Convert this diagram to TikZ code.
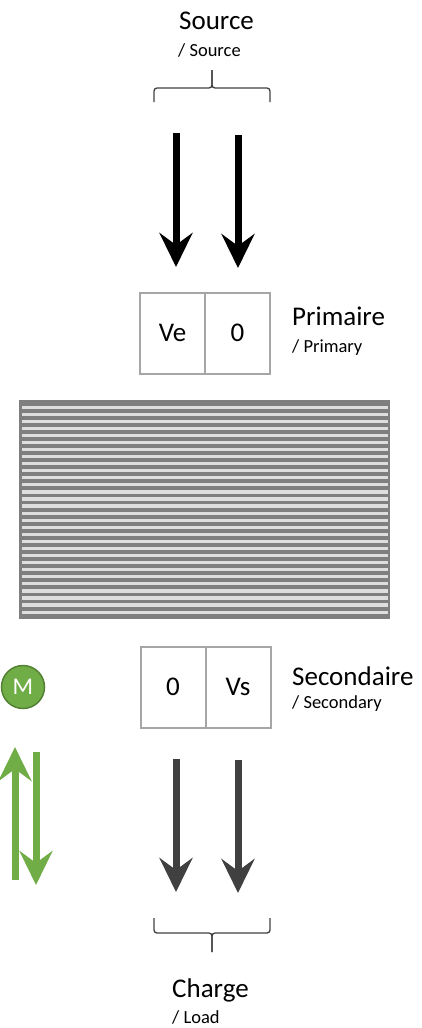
\documentclass[tikz,border=0pt]{standalone}
\usepackage{fontspec}
\setmainfont{Carlito}
\usepackage{tikz}
\usetikzlibrary{arrows.meta,positioning}
\definecolor{boxgray}{HTML}{A6A6A6}
\definecolor{coredark}{HTML}{7F7F7F}
\definecolor{corelight}{HTML}{DEDEDE}
\definecolor{darkarrow}{HTML}{404040}
\definecolor{mgreen}{HTML}{70AD47}
\definecolor{mgreendark}{HTML}{548235}
\newcommand{\bigtext}{\fontsize{27}{32}\selectfont}
\newcommand{\smalltext}{\fontsize{18.5}{22}\selectfont}
\newcommand{\motortext}{\fontsize{24}{28}\selectfont}
\newcommand{\shaftw}{7pt}

\begin{document}
\begin{tikzpicture}[x=1pt,y=-1pt]
    \begin{scope}
        %\draw[help lines] (0,0) grid[step=50] (422,1028);
        \tikzset{
            cell/.style={draw=boxgray, line width=2pt, minimum width=65pt, minimum height=81pt, inner sep=0pt, outer sep=0pt, font=\bigtext},
            title/.style={anchor=base west, inner sep=0pt, font=\bigtext},
            subtitle/.style={anchor=base west, inner sep=0pt, font=\smalltext},
            flow/.style={line width=\shaftw, -{Stealth[length=34pt, width=33pt, inset=12pt]}},
            brace/.style={draw=darkarrow, line width=1.3pt, rounded corners=3pt}
        }
        \useasboundingbox (0,0) rectangle (422,1028);

        % source
        \node[title] (source) at (179,29) {Source};
        \node[subtitle] (sourcesub) at (178,56) {/ Source};
        \draw[brace] (154,102) -- (154,88) -- (212,88) -- (212,70);
        \draw[brace] (212,70) -- (212,88) -- (270,88) -- (270,102);

        \coordinate (in1a) at (176,133);
        \coordinate (in1b) at (176,267);
        \coordinate (in2a) at (238,135);
        \coordinate (in2b) at (238,268);
        \draw[flow, black] (in1a) -- (in1b);
        \draw[flow, black] (in2a) -- (in2b);

        % primary
        \node[cell] (ve) at (172.5,333) {Ve};
        \node[cell, right=0pt of ve] (pzero) {0};
        \node[title] (primaire) at (292,325) {Primaire};
        \node[subtitle] (primairesub) at (292,352) {/ Primary};

        % core
        \fill[coredark] (19,400) rectangle (390,619);
        \foreach \i in {0,...,29}
            \fill[corelight] (22,{405.5+7.07*\i}) rectangle (388,{408.7+7.07*\i});

        % secondary
        \node[cell] (szero) at (173,687) {0};
        \node[cell, right=0pt of szero] (vs) {Vs};
        \node[title] (secondaire) at (292,685) {Secondaire};
        \node[subtitle] (secondairesub) at (292,708) {/ Secondary};

        \node[circle, fill=mgreen, draw=mgreendark, line width=1.5pt, minimum size=43pt, inner sep=0pt, text=white] (motor) at (23,687) {\motortext M};
        \coordinate (upa) at (15,880);
        \coordinate (upb) at (15,747);
        \coordinate (downa) at (36,752);
        \coordinate (downb) at (36,885);
        \draw[flow, mgreen] (upa) -- (upb);
        \draw[flow, mgreen] (downa) -- (downb);

        \coordinate (out1a) at (176,759);
        \coordinate (out1b) at (176,892);
        \coordinate (out2a) at (238,760);
        \coordinate (out2b) at (238,893);
        \draw[flow, darkarrow] (out1a) -- (out1b);
        \draw[flow, darkarrow] (out2a) -- (out2b);

        % load
        \draw[brace] (154,918) -- (154,933) -- (212,933) -- (212,952);
        \draw[brace] (212,952) -- (212,933) -- (270,933) -- (270,918);
        \node[title] (charge) at (172,997) {Charge};
        \node[subtitle] (chargesub) at (172,1023) {/ Load};
    \end{scope}
\end{tikzpicture}
\end{document}
